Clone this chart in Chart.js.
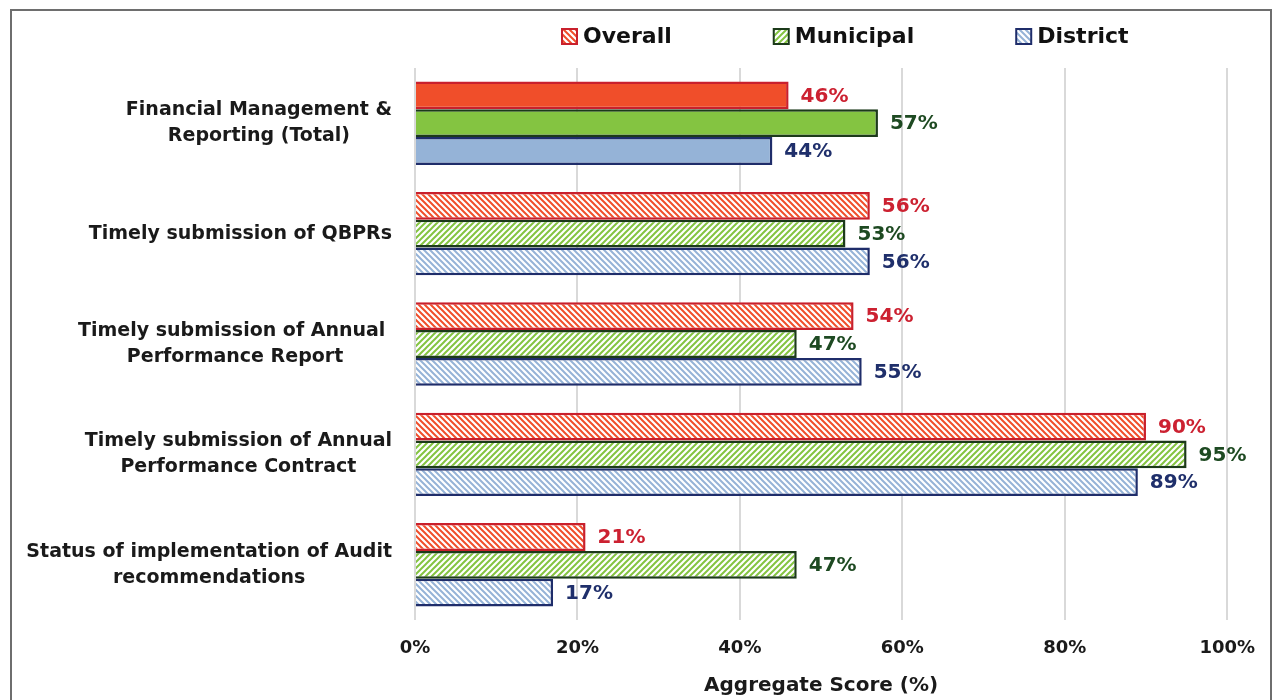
<!DOCTYPE html>
<html>
<head>
<meta charset="utf-8">
<script src="https://cdn.jsdelivr.net/npm/chart.js@4.4.1/dist/chart.umd.min.js"></script>
<style>
  html, body { margin: 0; padding: 0; background: #fff; }
  #wrap { width: 1273px; height: 700px; position: relative; }
</style>
</head>
<body>
<div id="wrap"><canvas id="score-chart" width="1273" height="700"></canvas></div>
<script>
/* aggregate score chart - horizontal grouped bars */

const categories = [
    ["Financial Management &", "Reporting (Total)"],
    ["Timely submission of QBPRs"],
    ["Timely submission of Annual ", "Performance Report"],
    ["Timely submission of Annual", "Performance Contract"],
    ["Status of implementation of Audit", "recommendations"]
];
const seriesNames = ["Overall", "Municipal", "District"];
const overallValues = [46, 56, 54, 90, 21];
const municipalValues = [57, 53, 47, 95, 47];
const districtValues = [44, 56, 55, 89, 17];
const xTicks = [0, 20, 40, 60, 80, 100];

const FONT = "'DejaVu Sans', sans-serif";

// diagonal hatch fills
function hatch(color, forward) {
    let c = document.createElement("canvas");
    c.width = 6; c.height = 6;
    let g = c.getContext("2d");
    g.fillStyle = "#fff";
    g.fillRect(0, 0, 6, 6);
    g.strokeStyle = color;
    g.lineWidth = 2;
    g.beginPath();
    if (forward) {
        g.moveTo(-3, 3); g.lineTo(3, -3);
        g.moveTo(0, 6); g.lineTo(6, 0);
        g.moveTo(3, 9); g.lineTo(9, 3);
    } else {
        g.moveTo(-3, 3); g.lineTo(3, 9);
        g.moveTo(0, 0); g.lineTo(6, 6);
        g.moveTo(3, -3); g.lineTo(9, 3);
    }
    g.stroke();
    return g.createPattern(c, "repeat");
}

const styles = [
    { fill: "#f04e2a", border: "#c9202c", label: "#cc2131", pattern: hatch("#f04e2a", false) },
    { fill: "#84c441", border: "#1c3a1a", label: "#1e4a22", pattern: hatch("#84c441", true) },
    { fill: "#95b3d7", border: "#1f2d6a", label: "#1f2f6b", pattern: hatch("#95b3d7", false) }
];

const allValues = [overallValues, municipalValues, districtValues];

const scoreData = {
    labels: categories,
    datasets: allValues.map((vals, s) => ({
        label: seriesNames[s],
        data: vals,
        backgroundColor: vals.map((v, i) => i === 0 ? styles[s].fill : styles[s].pattern),
        borderColor: styles[s].border,
        borderWidth: 2.5,
        borderSkipped: "left",
        barPercentage: 1.0,
        categoryPercentage: 0.755
    }))
};

// labels, legend and frame drawn on the canvas
const extrasPlugin = {
    id: "extras",
    afterDatasetsDraw(chart) {
        const ctx = chart.ctx;
        ctx.save();
        ctx.font = "bold 20px " + FONT;
        ctx.textBaseline = "middle";
        ctx.textAlign = "left";
        chart.data.datasets.forEach((ds, s) => {
            chart.getDatasetMeta(s).data.forEach((bar, i) => {
                ctx.fillStyle = styles[s].label;
                ctx.fillText(ds.data[i] + "%", bar.x + 12, bar.y + 1);
            });
        });
        ctx.restore();
    },
    afterDraw(chart) {
        const ctx = chart.ctx;
        const yScale = chart.scales.y;
        ctx.save();
        // category labels, centred lines, block right edge near the axis
        ctx.font = "bold 19px " + FONT;
        ctx.fillStyle = "#1a1a1a";
        ctx.textAlign = "center";
        ctx.textBaseline = "middle";
        categories.forEach((lines, i) => {
            const y = yScale.getPixelForTick(i);
            const w = Math.max(...lines.map(l => ctx.measureText(l).width));
            const cx = 392 - w / 2;
            const lh = 26;
            lines.forEach((l, k) => {
                ctx.fillText(l, cx, y + (k - (lines.length - 1) / 2) * lh);
            });
        });
        // legend
        ctx.font = "bold 22px " + FONT;
        ctx.textAlign = "left";
        let x = 562;
        const ly = 36;
        seriesNames.forEach((name, s) => {
            ctx.fillStyle = styles[s].pattern;
            ctx.fillRect(x, ly - 7, 15, 15);
            ctx.strokeStyle = styles[s].border;
            ctx.lineWidth = 2;
            ctx.strokeRect(x, ly - 7, 15, 15);
            ctx.fillStyle = "#111";
            ctx.fillText(name, x + 21, ly + 1);
            x += 21 + ctx.measureText(name).width + 102;
        });
        // outer frame
        ctx.strokeStyle = "#6e6e6e";
        ctx.lineWidth = 2;
        ctx.strokeRect(11, 10, 1260, 700);
        ctx.restore();
    }
};

let scoreChart = new Chart(document.getElementById("score-chart"), {
    type: "bar",
    data: scoreData,
    options: {
        indexAxis: "y",
        responsive: false,
        animation: false,
        layout: {
            padding: { top: 68, right: 45, left: 0, bottom: 0 }
        },
        scales: {
            x: {
                min: 0,
                max: 100,
                afterBuildTicks: (scale) => { scale.ticks = xTicks.map(v => ({ value: v })); },
                afterFit: (scale) => { scale.height = 80; },
                ticks: {
                    callback: (v) => v + "%",
                    color: "#1a1a1a",
                    font: { family: FONT, size: 18, weight: "bold" },
                    padding: 18
                },
                grid: {
                    color: "#d9d9d9",
                    lineWidth: 2,
                    drawTicks: false
                },
                border: { display: false },
                title: {
                    display: true,
                    text: "Aggregate Score (%)",
                    color: "#1a1a1a",
                    font: { family: FONT, size: 20, weight: "bold" },
                    padding: { top: 0, bottom: 2 }
                }
            },
            y: {
                afterFit: (scale) => { scale.width = 415; },
                ticks: { display: false },
                grid: { display: false },
                border: { display: false }
            }
        },
        plugins: {
            legend: { display: false },
            tooltip: { enabled: false }
        }
    },
    plugins: [extrasPlugin]
});
</script>
</body>
</html>
